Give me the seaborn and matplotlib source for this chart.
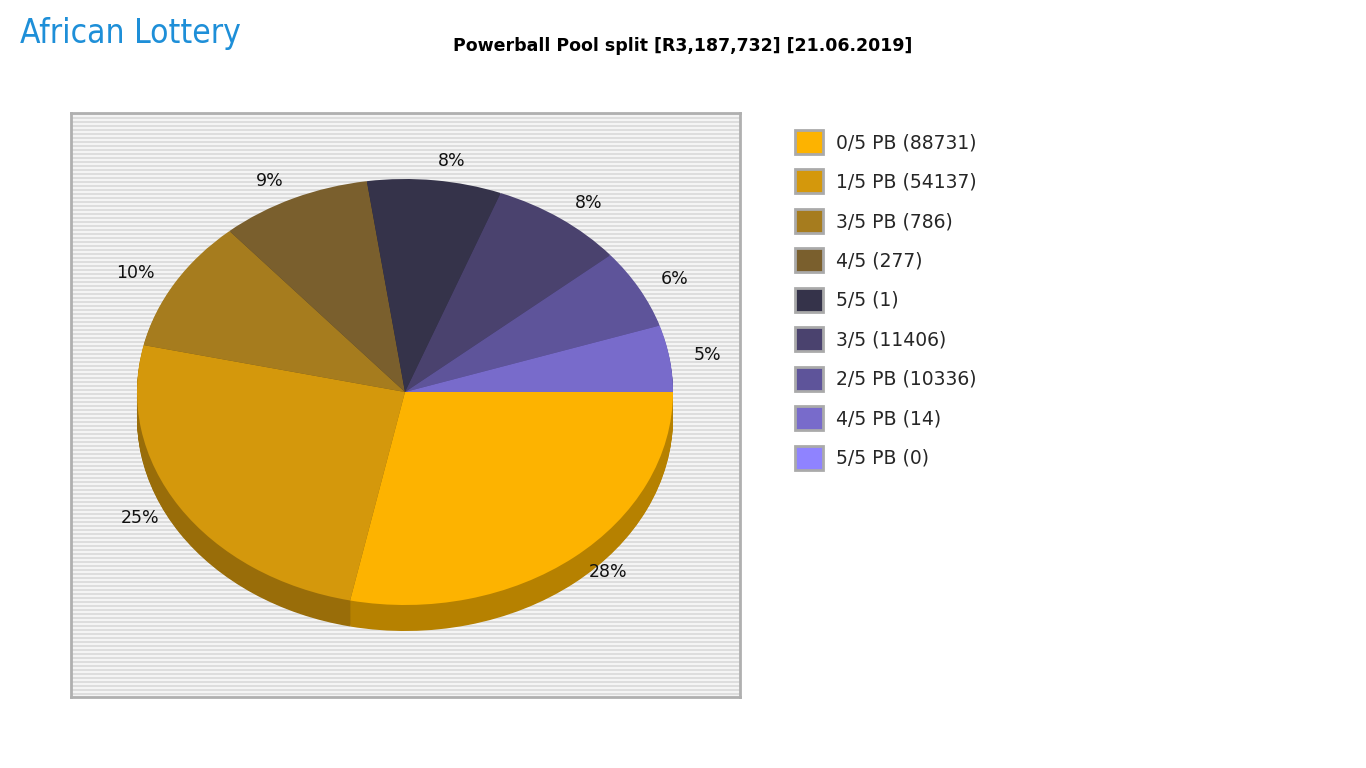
import matplotlib
matplotlib.use("Agg")
import matplotlib.pyplot as plt
import matplotlib.patches as mpatches
import seaborn as sns
import numpy as np

sns.set_theme(style="white")
plt.rcParams['font.family'] = ['DejaVu Sans']

labels = ["0/5 PB (88731)", "1/5 PB (54137)", "3/5 PB (786)", "4/5 (277)", "5/5 (1)",
          "3/5 (11406)", "2/5 PB (10336)", "4/5 PB (14)", "5/5 PB (0)"]
shares = [28, 25, 10, 9, 8, 8, 6, 5, 0]
colors = ["#FDB300", "#D4980C", "#A67C1E", "#7A5F2D", "#35334A",
          "#4A426E", "#5E549A", "#786BCB", "#8F83FF"]
title = "Powerball Pool split [R3,187,732] [21.06.2019]"

W, H = 1366, 768
fig = plt.figure(figsize=(W/100, H/100), dpi=100)

def fr(x0, y0, x1, y1):
    return [x0/W, 1 - y1/H, (x1-x0)/W, (y1-y0)/H]

# panel
pan = fig.add_axes(fr(71, 113, 740, 697))
pan.set_facecolor("#dcdcdc")
pan.set_xlim(0, 1); pan.set_ylim(0, 584)
for y in np.arange(1, 584, 4):
    pan.axhline(y, color="#f4f4f4", lw=1.5)
pan.set_xticks([]); pan.set_yticks([])
for s in pan.spines.values():
    s.set_color("#b0b0b0"); s.set_linewidth(2)

# pie
cx, cy, rx, ry, depth = 405, 392, 268, 213, 26
ax = fig.add_axes(fr(cx-rx, cy-ry, cx+rx, cy+ry+depth))
ax.patch.set_alpha(0)
d = depth/ry
vals = [v if v > 0 else 1e-9 for v in shares]
dark = [tuple(c*0.72 for c in matplotlib.colors.to_rgb(col)) for col in colors]
for k in np.linspace(d, 0.005, 30):
    ax.pie(vals, colors=dark, startangle=0, counterclock=False, center=(0, -k), radius=1,
           wedgeprops=dict(linewidth=0))
pct = [f"{v}%" if v > 0 else "" for v in shares]
ax.pie(vals, colors=colors, startangle=0, counterclock=False, center=(0, 0), radius=1,
       labels=pct, labeldistance=1.09, textprops=dict(fontsize=12.5, color="#111111"),
       wedgeprops=dict(linewidth=0))
ax.set_aspect("auto")
ax.set_xlim(-1, 1); ax.set_ylim(-1 - d, 1)
ax.axis("off")

# legend
handles = [mpatches.Patch(facecolor=c, edgecolor="#aaaaaa", linewidth=2) for c in colors]
fig.legend(handles, labels, loc="upper left", bbox_to_anchor=(778/W, 1 - 113/H),
           frameon=False, fontsize=13.5, handlelength=1.5, handleheight=1.6,
           labelspacing=0.82, handletextpad=0.7)

fig.text(683/W, 1 - 46/H, title, ha="center", va="center", fontsize=12.5,
         fontweight="bold", color="black")
fig.text(20/W, 1 - 34/H, "African Lottery", ha="left", va="center", fontsize=24,
         color="#1E8FD8", family="DejaVu Sans", fontstretch="condensed")

fig.savefig("out.png", dpi=100)
